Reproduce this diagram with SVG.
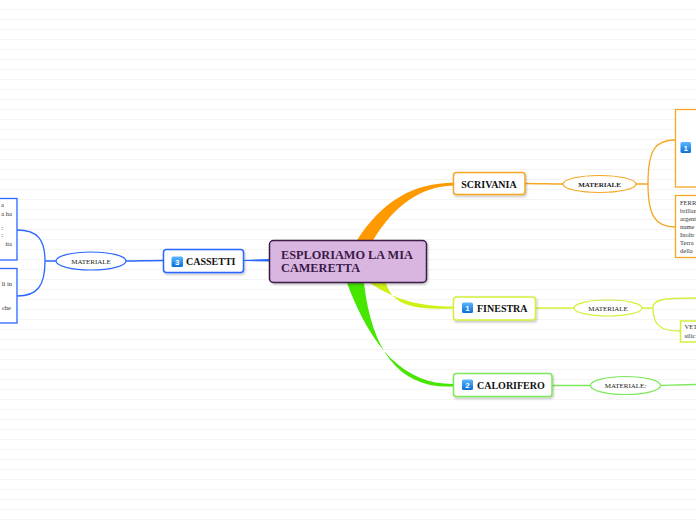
<svg xmlns="http://www.w3.org/2000/svg" width="696" height="520" viewBox="0 0 696 520">
<defs>
<pattern id="lines" width="696" height="10" patternUnits="userSpaceOnUse">
<rect width="696" height="10" fill="#ffffff"/>
<line x1="0" y1="9.5" x2="696" y2="9.5" stroke="#f4f4f4" stroke-width="1"/>
</pattern>
<linearGradient id="ico" x1="0" y1="0" x2="0" y2="1">
<stop offset="0" stop-color="#5ab8ff"/>
<stop offset="1" stop-color="#0a6fd6"/>
</linearGradient>
<filter id="sh" x="-10%" y="-10%" width="130%" height="140%">
<feDropShadow dx="1" dy="1.5" stdDeviation="1" flood-color="#000" flood-opacity="0.25"/>
</filter>
</defs>
<style>
.node{fill:#ffffff;stroke-width:1.5;filter:url(#sh)}
.lbl{font-family:"Liberation Serif","Times New Roman",serif;font-weight:bold;font-size:10px;fill:#111}
.mat{font-family:"Liberation Serif","Times New Roman",serif;font-size:7px;fill:#222}
.note{font-family:"Liberation Serif","Times New Roman",serif;font-size:6.5px;fill:#333}
.icon{fill:url(#ico)}
.num{font-family:"Liberation Sans",Arial,sans-serif;font-weight:bold;font-size:8px;fill:#fff}
.thin{fill:none;stroke-width:1.3}
</style>
<rect width="696" height="520" fill="url(#lines)"/>

<g id="connectors">
<path d="M356,242 C382,200 415,183 453,182.8 L453,185.5 C420,187 394,205 372,242 Z" fill="#ff9900"/>
<path d="M370,283 C395,300 420,306.5 453,306.5 L453,308.5 C420,309.5 393,308 386,283 Z" fill="#ccf216"/>
<path d="M347,283 C372,350 405,384 453,384 L453,386.5 C400,389 372,352 364,283 Z" fill="#46e600"/>
<path d="M243,260 L269,259 L269,261.5 L243,261 Z" fill="#2a66ff"/>
<path class="thin" stroke="#f5a623" d="M525,183.5 C540,183.5 550,184 563,184"/>
<path class="thin" stroke="#f5a623" d="M636,184 L648,184 M675,140 C655,140 648,150 648,184 C648,215 655,227 675,227"/>
<path class="thin" stroke="#d4ef3a" d="M535.5,308 C550,308 560,308 574,308"/>
<path class="thin" stroke="#d4ef3a" d="M642,308 L653,308 M696,298 C660,298 653,300 653,308 C653,325 660,331 680,331"/>
<path class="thin" stroke="#7ce85a" d="M552,385.5 C565,385.5 575,385.5 590.5,385.5"/>
<path class="thin" stroke="#7ce85a" d="M660,385.5 C675,385 685,384.5 696,384.5"/>
<path class="thin" stroke="#2a66ff" d="M163,260.5 C150,260.5 138,261 126,261"/>
<path class="thin" stroke="#2a66ff" d="M56,261 L45,261 M17,230 C38,230 45,240 45,261 C45,285 38,296 17,296"/>
</g>

<g id="center">
<rect x="269.5" y="240.5" width="157" height="42" rx="4" fill="#d9b6e0" stroke="#3a1a48" stroke-width="1.5" filter="url(#sh)"/>
<text x="281" y="259" font-family="Liberation Serif, Times New Roman, serif" font-weight="bold" font-size="12.3" fill="#3a1a48">ESPLORIAMO LA MIA</text>
<text x="281" y="272" font-family="Liberation Serif, Times New Roman, serif" font-weight="bold" font-size="12.3" fill="#3a1a48">CAMERETTA</text>
</g>

<g id="scrivania">
<rect class="node" x="453.5" y="172.5" width="71.5" height="22" rx="3" stroke="#f5a623"/>
<text class="lbl" x="489" y="187.5" text-anchor="middle">SCRIVANIA</text>
</g>
<g id="scrivania-materiale">
<ellipse cx="599.5" cy="184" rx="36.5" ry="8.5" fill="#fff" stroke="#f5a623" stroke-width="1.2"/>
<text class="mat" x="599.5" y="186.5" text-anchor="middle" font-weight="bold">MATERIALE</text>
</g>
<g id="scrivania-note1">
<rect x="675.5" y="109.5" width="40" height="77.5" fill="#fff" stroke="#f5a623" stroke-width="1.3"/>
<rect class="icon" x="680.5" y="142" width="10.5" height="11" rx="1.5"/>
<text class="num" x="685.7" y="150.8" text-anchor="middle">1</text>
</g>
<g id="scrivania-note2">
<rect x="675.5" y="195.5" width="40" height="62" fill="#fff" stroke="#f5a623" stroke-width="1.3"/>
<text class="note" x="680" y="205">FERR</text>
<text class="note" x="680" y="213">brillan</text>
<text class="note" x="680" y="221">argent</text>
<text class="note" x="680" y="229">nume</text>
<text class="note" x="680" y="237">Inoltr</text>
<text class="note" x="680" y="245">Terra</text>
<text class="note" x="680" y="253">della</text>
</g>

<g id="finestra">
<rect class="node" x="453.5" y="297" width="82" height="23" rx="3" stroke="#d4ef3a"/>
<rect class="icon" x="462" y="302.5" width="11" height="10.5" rx="1.5"/>
<text class="num" x="467.5" y="311" text-anchor="middle">1</text>
<text class="lbl" x="477" y="312">FINESTRA</text>
</g>
<g id="finestra-materiale">
<ellipse cx="608" cy="308" rx="34" ry="8" fill="#fff" stroke="#d4ef3a" stroke-width="1.2"/>
<text class="mat" x="608" y="310.5" text-anchor="middle">MATERIALE</text>
</g>
<g id="finestra-note">
<rect x="680.5" y="321" width="30" height="21" fill="#fff" stroke="#d4ef3a" stroke-width="1.5"/>
<text class="note" x="684.5" y="329">VET</text>
<text class="note" x="684.5" y="337.5">silic</text>
</g>

<g id="calorifero">
<rect class="node" x="453.5" y="373.5" width="98.5" height="23" rx="3" stroke="#7ce85a"/>
<rect class="icon" x="462" y="379.5" width="11" height="10.5" rx="1.5"/>
<text class="num" x="467.5" y="388" text-anchor="middle">2</text>
<text class="lbl" x="477" y="389">CALORIFERO</text>
</g>
<g id="calorifero-materiale">
<ellipse cx="625.5" cy="385.5" rx="35" ry="9" fill="#fff" stroke="#7ce85a" stroke-width="1.2"/>
<text class="mat" x="625.5" y="388" text-anchor="middle">MATERIALE:</text>
</g>

<g id="cassetti">
<rect class="node" x="163.5" y="249.5" width="80" height="23" rx="3" stroke="#2a66ff"/>
<rect class="icon" x="171.5" y="256.5" width="11.5" height="10.5" rx="1.5"/>
<text class="num" x="177.2" y="265" text-anchor="middle">3</text>
<text class="lbl" x="186" y="265">CASSETTI</text>
</g>
<g id="cassetti-materiale">
<ellipse cx="91" cy="261" rx="35" ry="9" fill="#fff" stroke="#2a66ff" stroke-width="1.2"/>
<text class="mat" x="91" y="263.5" text-anchor="middle">MATERIALE</text>
</g>
<g id="cassetti-note1">
<rect x="-20" y="198.5" width="37" height="61.5" fill="#fff" stroke="#2a66ff" stroke-width="1.3"/>
<text class="note" x="4" y="207" text-anchor="end">a</text>
<text class="note" x="12" y="215.5" text-anchor="end">a ha</text>
<text class="note" x="3" y="230" text-anchor="end">:</text>
<text class="note" x="3" y="237" text-anchor="end">:</text>
<text class="note" x="12" y="245.5" text-anchor="end">ita</text>
</g>
<g id="cassetti-note2">
<rect x="-20" y="268.5" width="37" height="54.5" fill="#fff" stroke="#2a66ff" stroke-width="1.3"/>
<text class="note" x="12" y="286" text-anchor="end">li in</text>
<text class="note" x="11" y="310" text-anchor="end">che</text>
</g>
</svg>
